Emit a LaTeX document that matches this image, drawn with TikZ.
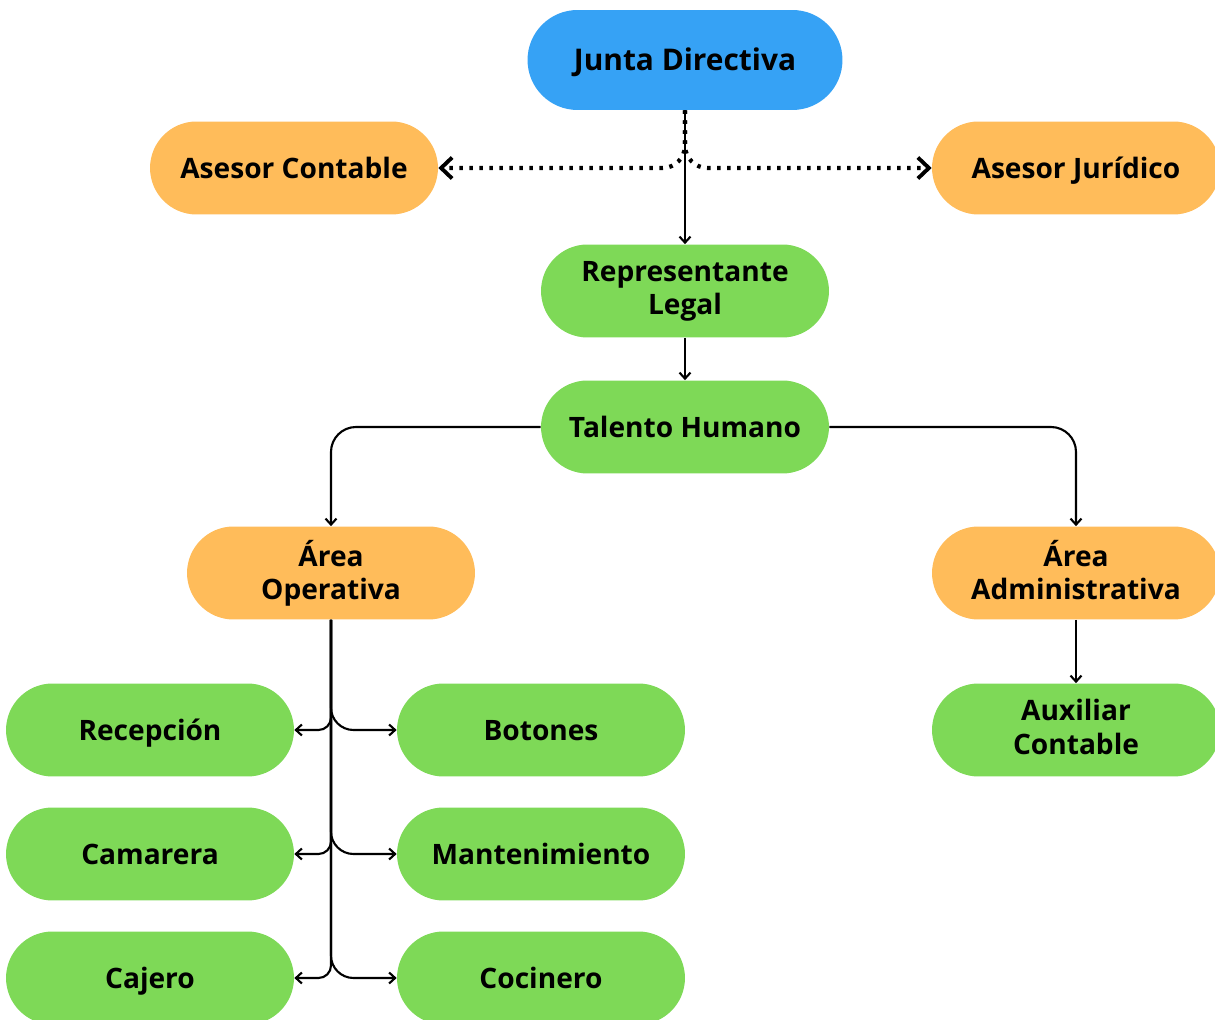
\documentclass[tikz,border=0pt]{standalone}
\usepackage{fontspec}
\setmainfont{Open Sans}
\usetikzlibrary{shapes.misc,arrows.meta,positioning}
\definecolor{juntablue}{RGB}{54,162,245}
\definecolor{asesororange}{RGB}{255,188,90}
\definecolor{cargogreen}{RGB}{126,217,87}

\begin{document}
\begin{tikzpicture}[
    x=0.02cm, y=-0.02cm,
    pill/.style={rounded rectangle, draw=none, align=center, text=black,
        font=\fontsize{16}{19}\selectfont\bfseries, text depth=3.6pt,
        minimum width=5.76cm, minimum height=1.86cm, inner sep=0pt},
    oneline/.style={text height=15pt},
    bluepill/.style={pill, oneline, fill=juntablue, minimum width=6.3cm, minimum height=2cm,
        font=\fontsize{17}{20}\selectfont\bfseries},
    orangepill/.style={pill, fill=asesororange},
    greenpill/.style={pill, fill=cargogreen},
    link/.style={-{Straight Barb[length=0.12cm,width=0.22cm]}, line width=1.2pt},
    advice/.style={-{Straight Barb[length=0.22cm,width=0.42cm,line width=2.2pt]},
        line width=2.4pt, dash pattern=on 0.07cm off 0.13cm, rounded corners=0.45cm},
]
\useasboundingbox (0,0) rectangle (1215,1020);

% Top
\node[bluepill] (junta) at (685,60) {Junta Directiva};

% Advisers
\node[orangepill,oneline] (contable) at (294,168) {Asesor Contable};
\node[orangepill,oneline] (juridico) at (1076,168) {Asesor Jurídico};

% Management
\node[greenpill] (legal) at (685,291) {Representante\\Legal};
\node[greenpill,oneline] (talento) at (685,427) {Talento Humano};

% Areas
\node[orangepill] (operativa) at (331,573) {Área\\Operativa};
\node[orangepill] (admin) at (1076,573) {Área\\Administrativa};
\node[greenpill] (auxiliar) at (1076,730) {Auxiliar\\Contable};

% Operative staff
\node[greenpill,oneline] (recepcion) at (150,730) {Recepción};
\node[greenpill,oneline] (camarera) at (150,854) {Camarera};
\node[greenpill,oneline] (cajero) at (150,978) {Cajero};
\node[greenpill,oneline] (botones) at (541,730) {Botones};
\node[greenpill,oneline] (mant) at (541,854) {Mantenimiento};
\node[greenpill,oneline] (cocinero) at (541,978) {Cocinero};

% Connections
\draw[advice] (junta.south) |- (contable.east);
\draw[advice] (junta.south) |- (juridico.west);
\draw[link] (junta.south) -- (legal.north);
\draw[link] (legal.south) -- (talento.north);
\draw[link,rounded corners=0.5cm] (talento.west) -| (operativa.north);
\draw[link,rounded corners=0.5cm] (talento.east) -| (admin.north);
\draw[link] (admin.south) -- (auxiliar.north);

\foreach \lft/\rgt in {recepcion/botones,camarera/mant,cajero/cocinero}{
    \draw[link,rounded corners=0.25cm] (operativa.south) |- (\lft.east);
    \draw[link,rounded corners=0.45cm] (operativa.south) |- (\rgt.west);
}

\end{tikzpicture}
\end{document}
